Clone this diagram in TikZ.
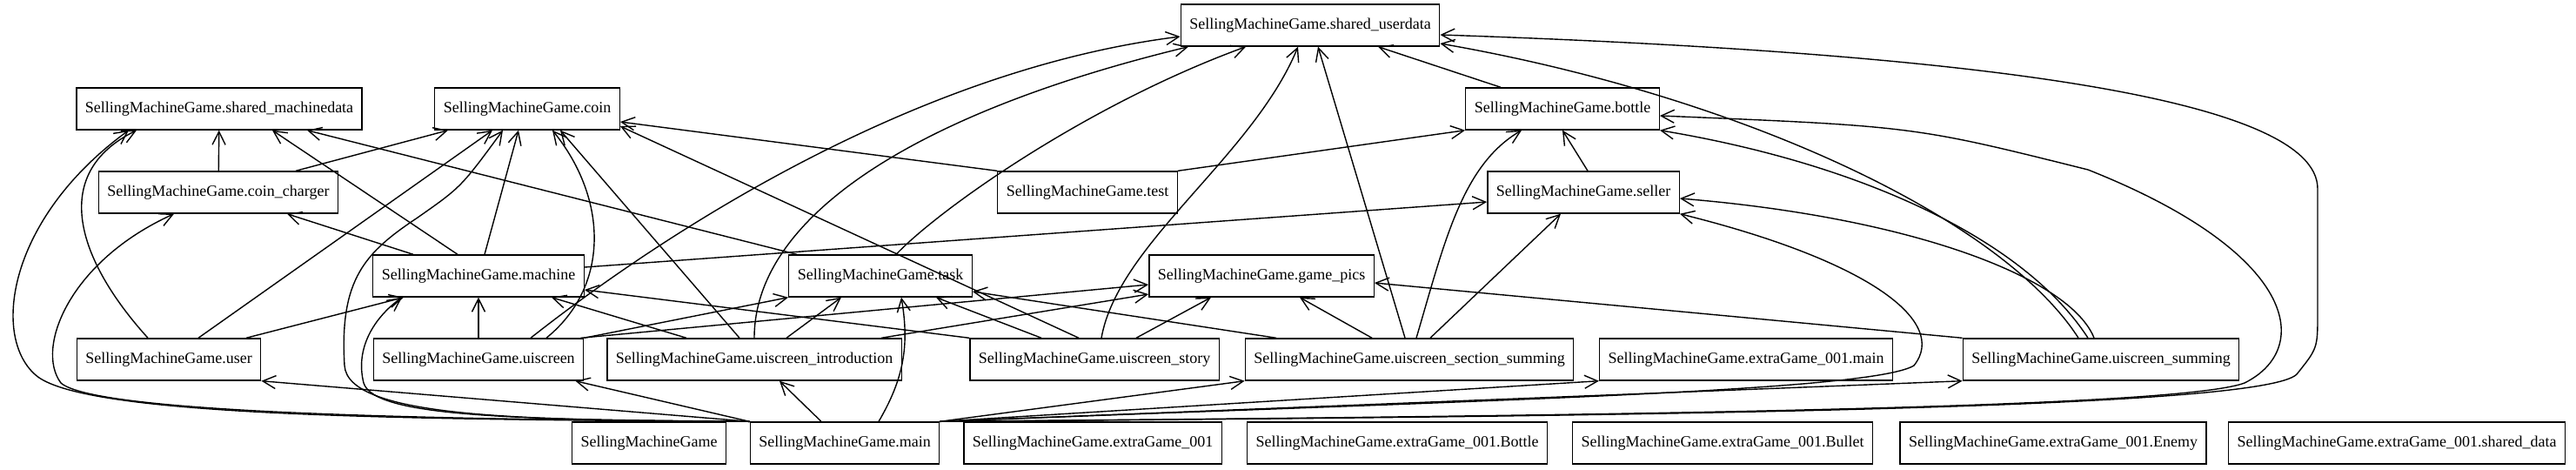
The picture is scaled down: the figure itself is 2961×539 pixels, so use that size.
\documentclass[tikz,border=0pt]{standalone}
\usepackage{fontspec}
\setmainfont{Liberation Serif}
\usetikzlibrary{arrows.meta}

\begin{document}
\begin{tikzpicture}[x=1pt,y=-1pt,line width=1.4pt,
      >={Straight Barb[length=15pt,width=15pt]},
      mod node/.style={rectangle,draw,minimum height=48pt,inner xsep=10pt,font=\fontsize{18}{22}\selectfont}]

      \useasboundingbox (0,0) rectangle (2961,539);

      % top rows
      \node[mod node] (userdata) at (1506,29) {SellingMachineGame.shared\_userdata};
      \node[mod node] (smd) at (252,125) {SellingMachineGame.shared\_machinedata};
      \node[mod node] (coin) at (606,125) {SellingMachineGame.coin};
      \node[mod node] (bottle) at (1796,125) {SellingMachineGame.bottle};
      \node[mod node] (charger) at (251,221) {SellingMachineGame.coin\_charger};
      \node[mod node] (test) at (1250,221) {SellingMachineGame.test};
      \node[mod node] (seller) at (1820,221) {SellingMachineGame.seller};
      \node[mod node] (machine) at (550,317) {SellingMachineGame.machine};
      \node[mod node] (task) at (1012,317) {SellingMachineGame.task};
      \node[mod node] (pics) at (1450,317) {SellingMachineGame.game\_pics};

      % screens
      \node[mod node] (user) at (194,413) {SellingMachineGame.user};
      \node[mod node] (uiscreen) at (550,413) {SellingMachineGame.uiscreen};
      \node[mod node] (intro) at (867,413) {SellingMachineGame.uiscreen\_introduction};
      \node[mod node] (story) at (1258,413) {SellingMachineGame.uiscreen\_story};
      \node[mod node] (section) at (1620,413) {SellingMachineGame.uiscreen\_section\_summing};
      \node[mod node] (xmain) at (2007,413) {SellingMachineGame.extraGame\_001.main};
      \node[mod node] (summing) at (2415,413) {SellingMachineGame.uiscreen\_summing};

      % bottom row
      \node[mod node] (root) at (746,509) {SellingMachineGame};
      \node[mod node] (main) at (971,509) {SellingMachineGame.main};
      \node[mod node] (xgame) at (1256,509) {SellingMachineGame.extraGame\_001};
      \node[mod node] (xbottle) at (1606,509) {SellingMachineGame.extraGame\_001.Bottle};
      \node[mod node] (xbullet) at (1980,509) {SellingMachineGame.extraGame\_001.Bullet};
      \node[mod node] (xenemy) at (2360,509) {SellingMachineGame.extraGame\_001.Enemy};
      \node[mod node] (xshared) at (2755,509) {SellingMachineGame.extraGame\_001.shared\_data};


      \path[->]
        (charger) edge (smd)
        ([xshift=89pt]charger.north) edge ([xshift=-91pt]coin.south)
        ([xshift=34pt]user.north) edge ([xshift=-40pt]coin.south)
        ([xshift=89pt]user.north) edge ([xshift=-86pt]machine.south)
        ([xshift=-24pt]machine.north) edge ([xshift=61pt]smd.south)
        ([xshift=-75pt]machine.north) edge ([xshift=79pt]charger.south)
        ([xshift=7pt]machine.north) edge ([xshift=-10pt]coin.south)
        ([yshift=10pt]machine.east) edge ([yshift=-11pt]seller.west)
        ([xshift=-96pt]task.north) edge ([xshift=101pt]smd.south)
        (uiscreen) edge (machine)
        (uiscreen.north east) edge (task.south west)
        ([xshift=-4pt]uiscreen.north east) edge ([yshift=-10pt]pics.west)
        ([xshift=-78pt]intro.north) edge ([xshift=84pt]machine.south)
        ([xshift=-17pt]intro.north) edge ([xshift=38pt]coin.south)
        ([xshift=37pt]intro.north) edge ([xshift=-45pt]task.south)
        ([xshift=146pt]intro.north) edge ([yshift=-21pt]pics.west)
        (story.north west) edge ([yshift=-16pt]machine.east)
        ([xshift=-61pt]story.north) edge ([xshift=64pt]task.south)
        ([xshift=-18pt]story.north) edge ([yshift=-20pt]coin.east)
        ([xshift=48pt]story.north) edge ([xshift=-58pt]pics.south)
        ([xshift=-153pt]section.north) edge ([yshift=-18pt]task.east)
        ([xshift=-43pt]section.north) edge ([xshift=44pt]pics.south)
        ([xshift=-5pt]section.north) edge ([xshift=9pt]userdata.south)
        ([xshift=24pt]section.north) edge ([xshift=-26pt]seller.south)
        (summing.north west) edge ([yshift=-8pt]pics.east)
        (test.north west) edge ([yshift=-15pt]coin.east)
        (test.north east) edge (bottle.south west)
        ([xshift=5pt]seller.north) edge (bottle.south)
        ([xshift=-71pt]bottle.north) edge ([xshift=78pt]userdata.south)
        (main.north west) edge (user.south east)
        (main.north west) edge ([xshift=-10pt]uiscreen.south east)
        ([xshift=-27pt]main.north) edge ([xshift=29pt]intro.south)
        ([xshift=39pt]main.north) edge[bend right=20] ([xshift=24pt]task.south)
        (main.north east) edge (section.south west)
        (main.north east) edge (xmain.south west)
        (main.north east) edge (summing.south west);

      % curved imports
      \draw[->] ([xshift=-24pt]user.north) .. controls (90,300) and (55,200) .. ([xshift=-95pt]smd.south);
      \draw[->] ([xshift=78pt]uiscreen.north) .. controls (700,330) and (700,230) .. ([xshift=29pt]coin.south);
      \draw[->] ([xshift=60pt]uiscreen.north) .. controls (760,270) and (1050,80) .. ([yshift=-13pt]userdata.west);
      \draw[->] (intro.north) .. controls (867,250) and (1050,130) .. ([xshift=-140pt]userdata.south);
      \draw[->] ([xshift=18pt]task.north) .. controls (1080,240) and (1250,120) .. ([xshift=-74pt]userdata.south);
      \draw[->] ([xshift=8pt]story.north) .. controls (1285,280) and (1440,180) .. ([xshift=-14pt]userdata.south);
      \draw[->] ([xshift=8pt]section.north) .. controls (1660,280) and (1680,190) .. ([xshift=-47pt]bottle.south);
      \draw[->] ([xshift=-26pt]summing.north) .. controls (2300,250) and (2000,110) .. ([yshift=-21pt]userdata.east);
      \draw[->] ([xshift=-15pt]summing.north) .. controls (2330,280) and (2150,190) .. (bottle.south east);
      \draw[->] ([xshift=-8pt]summing.north) .. controls (2380,320) and (2200,250) .. ([yshift=-7pt]seller.east);

      \draw[->] (main.north west) .. controls (450,482) and (90,478) .. (40,430)
        .. controls (-10,385) and (10,250) .. ([xshift=-104pt]smd.south);
      \draw[->] (main.north west) .. controls (500,482) and (110,475) .. (70,440)
        .. controls (40,400) and (80,300) .. ([xshift=-51pt]charger.south);
      \draw[->] (main.north west) .. controls (600,482) and (430,480) .. (418,440)
        .. controls (408,400) and (430,365) .. ([xshift=-88pt]machine.south);
      \draw[->] (main.north west) .. controls (600,483) and (400,480) .. (396,420)
        .. controls (390,320) and (420,290) .. (480,250)
        .. controls (530,215) .. ([xshift=-28pt]coin.south);
      \draw[->] (main.north east) .. controls (1700,460) and (2150,450) .. (2200,420)
        .. controls (2240,370) and (2150,300) .. (seller.south east);
      \draw[->] (main.north east) .. controls (1800,478) and (2500,470) .. (2580,440)
        .. controls (2660,400) and (2640,290) .. (2400,195)
        .. controls (2200,145) .. ([yshift=-8pt]bottle.east);
      \draw[->] (main.north east) .. controls (1900,478) and (2600,470) .. (2640,430)
        .. controls (2664,400) .. (2664,360) -- (2664,217)
        .. controls (2664,110) and (2250,60) .. ([yshift=-11pt]userdata.east);
    \end{tikzpicture}
\end{document}
